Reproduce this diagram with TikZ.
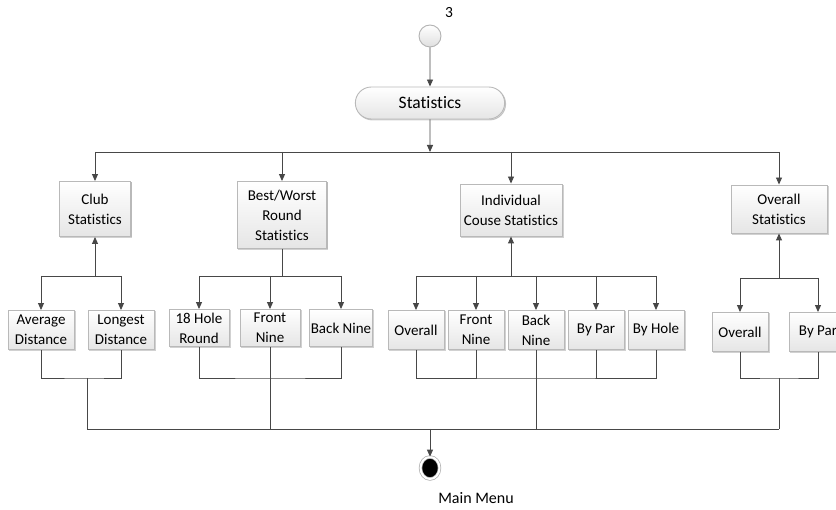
\documentclass[tikz,border=0pt]{standalone}
\usepackage{fontspec}
\setmainfont{Carlito}[Ligatures=CommonOff]
\usetikzlibrary{arrows.meta,shapes.misc,shapes.geometric,shadows}
\tikzset{
  box/.style={draw=gray!55, top color=white, bottom color=gray!20, align=center, inner sep=1pt,
    font=\fontsize{15}{20}\selectfont,
    drop shadow={shadow xshift=1pt, shadow yshift=-1pt, opacity=0.25}},
  sub/.style={box, minimum height=39pt},
  wire/.style={draw=black!72, line width=0.9pt},
}
\begin{document}
\begin{tikzpicture}[x=1pt, y=-1pt, >={Triangle[length=7pt,width=6pt]}, every path/.style={wire}]
  \useasboundingbox[draw=none] (0,0) rectangle (836,510);
  % start and title
  \node (start) [circle, draw=gray!60, top color=white, bottom color=gray!25, minimum size=22pt, inner sep=0pt] at (430,36) {};
  \node (num) at (449,13) {\fontsize{15.5}{18}\selectfont 3};
  \node (stats) [rounded rectangle, draw=gray!55, top color=white, bottom color=gray!20, minimum width=156pt, minimum height=32pt,
    font=\fontsize{17.5}{20}\selectfont, drop shadow={shadow xshift=1pt, shadow yshift=-1pt, opacity=0.25}] at (430,103) {Statistics};
  \draw[->] (start) -- (stats);
  % first level
  \node (club) [box, minimum width=71pt, minimum height=55pt] at (95,209) {Club\\Statistics};
  \node (best) [box, minimum width=89pt, minimum height=67pt] at (282,215) {Best/Worst\\Round\\Statistics};
  \node (indiv) [box, minimum width=102pt, minimum height=52pt] at (511,210) {Individual\\Couse Statistics};
  \node (ovst) [box, minimum width=96pt, minimum height=48pt] at (779,209) {Overall\\Statistics};
  \coordinate (topbus) at (430,152);
  \draw[->] (stats) -- (topbus);
  \draw (club.north |- topbus) -- (ovst.north |- topbus);
  \foreach \n in {club,best,indiv,ovst}
    \draw[->] (\n.north |- topbus) -- (\n.north);
  % second level
  \node (avg) [sub, minimum width=66pt] at (41,330) {Average\\Distance};
  \node (lng) [sub, minimum width=66pt] at (121,330) {Longest\\Distance};
  \node (hole) [sub, minimum width=60pt, minimum height=37pt] at (199,328) {18 Hole\\Round};
  \node (front) [sub, minimum width=60pt, minimum height=37pt] at (270,328) {Front\\Nine};
  \node (back) [sub, minimum width=60pt, minimum height=37pt] at (341,328) {Back Nine};
  \node (iov) [sub, minimum width=56pt] at (416,330) {Overall};
  \node (ifront) [sub, minimum width=56pt] at (476,330) {Front\\Nine};
  \node (iback) [sub, minimum width=56pt] at (536,330) {Back\\Nine};
  \node (ipar) [sub, minimum width=56pt] at (596,330) {By Par};
  \node (ihole) [sub, minimum width=56pt] at (656,330) {By Hole};
  \node (oov) [sub, minimum width=56pt] at (740,332) {Overall};
  \node (opar) [sub, minimum width=58pt] at (818,332) {By Par};
  % buses to second level
  \coordinate (clubbus) at (95,276);
  \coordinate (bestbus) at (282,276);
  \coordinate (indbus) at (511,276);
  \coordinate (ovbus) at (779,278);
  \draw[->] (clubbus) -- (club);
  \draw (avg |- clubbus) -- (lng |- clubbus);
  \foreach \n in {avg,lng}
    \draw[->] (\n |- clubbus) -- (\n);
  \draw (best) -- (bestbus);
  \draw (hole |- bestbus) -- (back |- bestbus);
  \foreach \n in {hole,front,back}
    \draw[->] (\n |- bestbus) -- (\n);
  \draw[->] (indbus) -- (indiv);
  \draw (iov |- indbus) -- (ihole |- indbus);
  \foreach \n in {iov,ifront,iback,ipar,ihole}
    \draw[->] (\n |- indbus) -- (\n);
  \draw[->] (ovbus) -- (ovst);
  \draw (oov |- ovbus) -- (opar |- ovbus);
  \foreach \n in {oov,opar}
    \draw[->] (\n |- ovbus) -- (\n);
  % back to the main menu
  \coordinate (clubbot) at (87,378);
  \coordinate (bestbot) at (270,378);
  \coordinate (indbot) at (536,378);
  \coordinate (ovbot) at (779,378);
  \coordinate (mainbus) at (430,429);
  \draw (avg) |- (clubbot) -| (lng);
  \draw (hole) |- (bestbot) -| (back);
  \draw (iov) |- (indbot) -| (ihole);
  \foreach \n in {ifront,ipar}
    \draw (\n) -- (\n |- indbot);
  \draw (oov) |- (ovbot) -| (opar);
  \draw (clubbot) -- (clubbot |- mainbus);
  \draw (front) -- (front |- mainbus);
  \draw (iback) -- (iback |- mainbus);
  \draw (ovbot) -- (ovbot |- mainbus);
  \draw (clubbot |- mainbus) -- (ovbot |- mainbus);
  \node (end) [ellipse, fill=black, draw=gray!65, double=white, double distance=2pt, line width=0.7pt,
    minimum width=19pt, minimum height=22pt, inner sep=0pt] at (430,468) {};
  \draw[->] (mainbus) -- (end);
  \node (menu) at (476,498) {\fontsize{16}{19}\selectfont Main Menu};
\end{tikzpicture}
\end{document}
